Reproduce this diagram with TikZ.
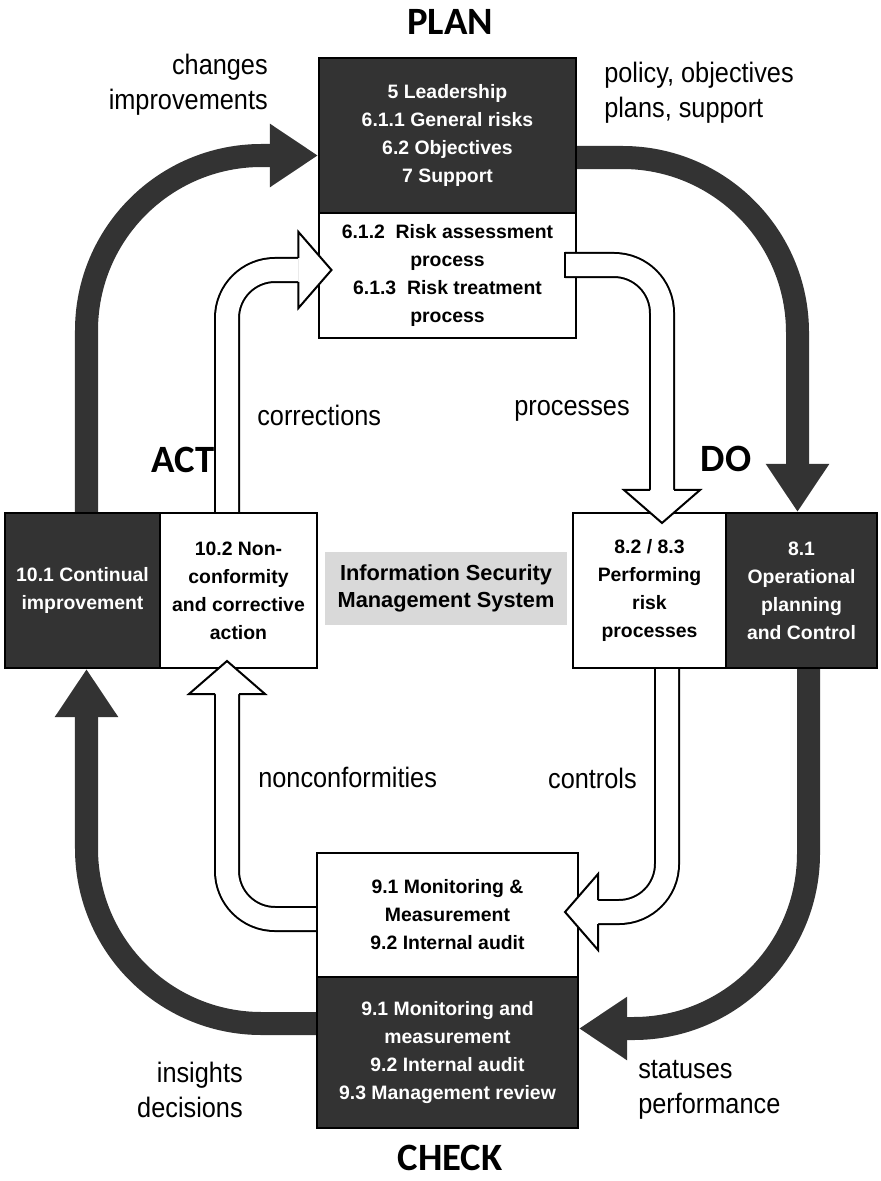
\documentclass[tikz,border=0pt]{standalone}
\usepackage{fontspec}
\setmainfont{Liberation Sans}
\newfontfamily\labelfont{Liberation Sans}[FakeStretch=0.9]
\newfontfamily\headfont{Carlito}
\usepackage{tikz}
\usetikzlibrary{arrows.meta,positioning,calc}
\usepackage{xcolor}
\definecolor{pdcadark}{RGB}{51,51,51}
\definecolor{pdcagrey}{RGB}{217,217,217}
\tikzstyle{darkbox} = [rectangle, draw=black, fill=pdcadark, line width=1.4pt, text=white, align=center, inner sep=0pt, font=\bfseries\fontsize{13.8}{19.9}\selectfont]
\tikzstyle{lightbox} = [darkbox, fill=white, text=black]
\tikzstyle{flowlabel} = [font=\labelfont\fontsize{20}{25}\selectfont, inner sep=0pt]
\tikzstyle{phase} = [font=\headfont\bfseries\fontsize{27.5}{30}\selectfont, inner sep=0pt]
\tikzstyle{darkflow} = [line width=0.575cm, draw=pdcadark, rounded corners=4.375cm, -{Triangle[length=1.2cm, width=1.5cm]}]
\tikzstyle{hollowflow} = [line width=0.05cm, double=white, double distance=0.55cm, rounded corners=1.2cm]
\tikzstyle{hollowedge} = [line width=0.05cm, line join=miter]

\begin{document}
\begin{tikzpicture}[x=0.025cm, y=-0.025cm]
    \useasboundingbox (0,0) rectangle (880,1181);

    % Plan block
    \node[darkbox, minimum width=6.425cm, minimum height=3.875cm] (planD) at (447.5,135.5) {5 Leadership\\6.1.1 General risks\\6.2 Objectives\\7 Support};
    \node[lightbox, minimum width=6.425cm, minimum height=3.125cm] (planW) at (447.5,275.5) {6.1.2~~Risk assessment\\process\\6.1.3~~Risk treatment\\process};

    % Act block
    \node[darkbox, minimum width=3.875cm, minimum height=3.875cm] (actD) at (82.5,590.5) {10.1 Continual\\improvement};
    \node[lightbox, minimum width=3.925cm, minimum height=3.875cm] (actW) at (238.5,590.5) {10.2 Non-\\conformity\\and corrective\\action};

    % Do block
    \node[lightbox, minimum width=3.825cm, minimum height=3.875cm] (doW) at (649.5,590.5) {8.2 / 8.3\\Performing\\risk\\processes};
    \node[darkbox, minimum width=3.775cm, minimum height=3.875cm] (doD) at (801.5,590.5) {8.1\\Operational\\planning\\and Control};

    % Check block
    \node[lightbox, minimum width=6.525cm, minimum height=3.1cm] (checkW) at (447.5,915) {9.1 Monitoring \&\\Measurement\\9.2 Internal audit};
    \node[darkbox, minimum width=6.525cm, minimum height=3.775cm] (checkD) at (447.5,1052.5) {9.1 Monitoring and\\measurement\\9.2 Internal audit\\9.3 Management review};

    % Centre
    \node[fill=pdcagrey, minimum width=6.05cm, minimum height=1.825cm, align=center, inner sep=0pt, font=\bfseries\fontsize{15.5}{19.2}\selectfont] (isms) at (446,588.5) {Information Security\\Management System};

    % Phase titles
    \node[phase] (planTitle) at (450,22) {PLAN};
    \node[phase] (actTitle) at (183,460) {ACT};
    \node[phase] (doTitle) at (726,459) {DO};
    \node[phase] (checkTitle) at (450,1158) {CHECK};

    % Flow labels
    \node[flowlabel, anchor=east, align=right] (changes) at (268,85) {changes\\improvements};
    \node[flowlabel, anchor=west, align=left] (policy) at (604,93) {policy, objectives\\plans, support};
    \node[flowlabel, anchor=west] (corr) at (257,415) {corrections};
    \node[flowlabel, anchor=east] (proc) at (630,411) {processes};
    \node[flowlabel, anchor=west] (nonconf) at (258,777) {nonconformities};
    \node[flowlabel, anchor=east] (ctrl) at (637,778) {controls};
    \node[flowlabel, anchor=east, align=right] (insights) at (243,1090) {insights\\decisions};
    \node[flowlabel, anchor=west, align=left] (statuses) at (638,1090) {statuses\\performance};

    % Outer cycle
    \draw[darkflow] ($(actD.north)+(4,0)$) |- ($(planD.west)+(0,20)$);
    \draw[darkflow] ($(planD.east)+(0,22)$) -| ($(doD.north)+(-4,0)$);
    \draw[darkflow] ($(doD.south)+(7,0)$) |- ($(checkD.east)+(0,-24)$);
    \draw[darkflow] ($(checkD.west)+(0,-29)$) -| ($(actD.south)+(4,0)$);

    % Inner cycle
    \coordinate (corrTip) at ($(planW.west)+(13.5,-5.5)$);
    \coordinate (procStart) at ($(planW.east)+(-12,-10.5)$);
    \coordinate (procTip) at ($(doW.north)+(12.5,11)$);
    \coordinate (ncTip) at ($(actW.south)+(-11.5,-8)$);
    \coordinate (ctrlTip) at ($(checkW.east)+(-14,-3)$);

    \draw[hollowflow] ($(actW.north)+(-11.5,0)$) |- ($(corrTip)+(-33,0)$);
    \draw[hollowflow] (procStart) -| ($(procTip)+(0,-33)$);
    \draw[hollowedge] ($(procStart)+(0,-13)$) -- ($(procStart)+(0,13)$);
    \draw[hollowflow] ($(checkW.west)+(0,4)$) -| ($(ncTip)+(0,33)$);
    \draw[hollowflow] ($(doW.south)+(17.5,0)$) |- ($(ctrlTip)+(33,0)$);

    \foreach \tip/\ang in {corrTip/0, procTip/-90, ncTip/90, ctrlTip/180}{
        \fill[white, shift={(\tip)}, rotate=\ang] (-33,-38) -- (0,0) -- (-33,38) -- cycle;
        \draw[hollowedge, shift={(\tip)}, rotate=\ang] (-33,-12) -- (-33,-38) -- (0,0) -- (-33,38) -- (-33,12);
    }
\end{tikzpicture}
\end{document}
